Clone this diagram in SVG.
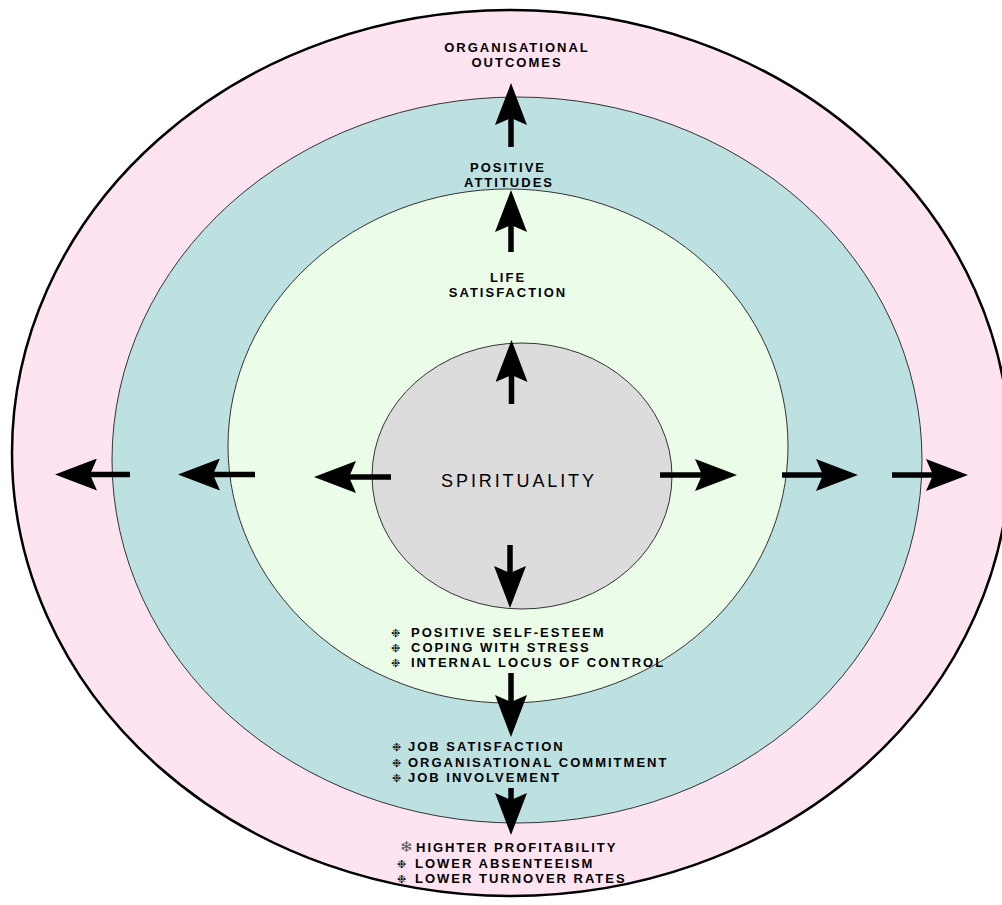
<svg xmlns="http://www.w3.org/2000/svg" width="1002" height="905" viewBox="0 0 1002 905">
<style>
.lbl{font-family:"Liberation Sans",Arial,sans-serif;font-weight:bold;font-size:13px;letter-spacing:2px;fill:#000}
.c{text-anchor:middle}
.b{font-family:"DejaVu Sans",sans-serif;font-weight:bold;font-size:11px;letter-spacing:0}
.sf{font-family:"DejaVu Sans",sans-serif;font-weight:normal;font-size:15px;letter-spacing:0;fill:#555}
.main{font-family:"Liberation Sans",Arial,sans-serif;font-size:18px;letter-spacing:2.9px;fill:#000;text-anchor:middle}
.arr{stroke:#000;stroke-width:5.5;fill:none;marker-end:url(#head)}
</style>
<defs>
<marker id="head" markerUnits="userSpaceOnUse" viewBox="0 0 42 32" markerWidth="42" markerHeight="32" refX="7" refY="16" orient="auto">
<path d="M0,0 L42,16 L0,32 L7,16 Z" fill="#000"/>
</marker>
</defs>
<rect width="1002" height="905" fill="#fff"/>
<g id="outcomes">
<ellipse cx="511" cy="453" rx="499" ry="443" fill="#fee4f1" stroke="#000" stroke-width="2.5"/>
<text class="lbl c" x="517" y="52">ORGANISATIONAL</text>
<text class="lbl c" x="517" y="67">OUTCOMES</text>
<text class="lbl" x="400" y="852"><tspan class="sf">❄</tspan><tspan x="416">HIGHTER PROFITABILITY</tspan></text>
<text class="lbl" x="397" y="868"><tspan class="b">❉</tspan><tspan x="415">LOWER ABSENTEEISM</tspan></text>
<text class="lbl" x="397" y="883"><tspan class="b">❉</tspan><tspan x="415">LOWER TURNOVER RATES</tspan></text>
</g>
<g id="attitudes">
<ellipse cx="517" cy="460" rx="405" ry="363" fill="#bde0e1" stroke="#333" stroke-width="1"/>
<text class="lbl c" x="508" y="172">POSITIVE</text>
<text class="lbl c" x="509" y="187">ATTITUDES</text>
<text class="lbl" x="392" y="751"><tspan class="b">❉</tspan><tspan x="408">JOB SATISFACTION</tspan></text>
<text class="lbl" x="392" y="767"><tspan class="b">❉</tspan><tspan x="408">ORGANISATIONAL COMMITMENT</tspan></text>
<text class="lbl" x="392" y="782"><tspan class="b">❉</tspan><tspan x="408">JOB INVOLVEMENT</tspan></text>
</g>
<g id="life">
<ellipse cx="508" cy="446" rx="280" ry="257" fill="#ebfde9" stroke="#333" stroke-width="1"/>
<text class="lbl c" x="508" y="282">LIFE</text>
<text class="lbl c" x="508" y="297">SATISFACTION</text>
<text class="lbl" x="391" y="637"><tspan class="b">❉</tspan><tspan x="411">POSITIVE SELF-ESTEEM</tspan></text>
<text class="lbl" x="391" y="652"><tspan class="b">❉</tspan><tspan x="411">COPING WITH STRESS</tspan></text>
<text class="lbl" x="391" y="667"><tspan class="b">❉</tspan><tspan x="411">INTERNAL LOCUS OF CONTROL</tspan></text>
</g>
<g id="spirituality">
<ellipse cx="522" cy="476" rx="150" ry="133" fill="#dcdcdc" stroke="#333" stroke-width="1"/>
<text class="main" x="519" y="487">SPIRITUALITY</text>
</g>
<g id="connectors">
<line class="arr" x1="511" y1="147" x2="511" y2="118"/>
<line class="arr" x1="511" y1="252" x2="511" y2="225"/>
<line class="arr" x1="511.5" y1="404" x2="511.5" y2="375"/>
<line class="arr" x1="510" y1="545" x2="510" y2="573"/>
<line class="arr" x1="511" y1="673" x2="511" y2="702"/>
<line class="arr" x1="511" y1="788" x2="511" y2="800"/>
<line class="arr" x1="130" y1="474.5" x2="90" y2="474.5"/>
<line class="arr" x1="255" y1="474.5" x2="213" y2="474.5"/>
<line class="arr" x1="391" y1="477" x2="349" y2="477"/>
<line class="arr" x1="660" y1="475" x2="702" y2="475"/>
<line class="arr" x1="782" y1="475" x2="823" y2="475"/>
<line class="arr" x1="892" y1="475" x2="933" y2="475"/>
</g>
</svg>
